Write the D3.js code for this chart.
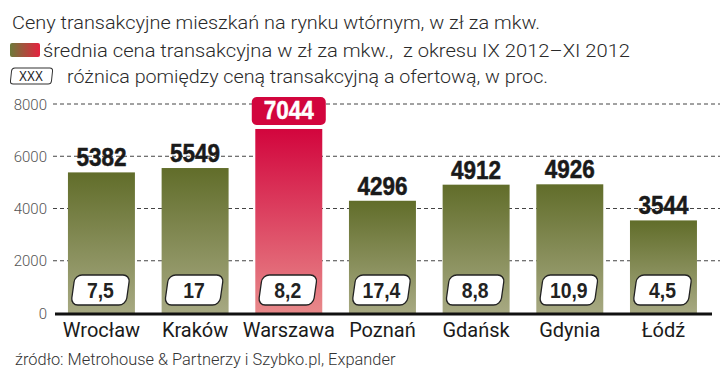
<!DOCTYPE html>
<html><head><meta charset="utf-8">
<script src="https://cdn.jsdelivr.net/npm/d3@7"></script>
<style>
body{margin:0;background:#fff;}
svg{display:block;}
</style></head>
<body>
<script>
const categories = ["Wrocław","Kraków","Warszawa","Poznań","Gdańsk","Gdynia","Łódź"];
const prices = [5382,5549,7044,4296,4912,4926,3544];
const diffs = ["7,5","17","8,2","17,4","8,8","10,9","4,5"];
const highlight = "Warszawa";
const yTicks = [0,2000,4000,6000,8000];
const titleLines = [
  "Ceny transakcyjne mieszkań na rynku wtórnym, w zł za mkw.",
  "średnia cena transakcyjna w zł za mkw.,  z okresu IX 2012–XI 2012",
  "różnica pomiędzy ceną transakcyjną a ofertową, w proc."
];
const legendBoxText = "XXX";
const sourceText = "źródło: Metrohouse & Partnerzy i Szybko.pl, Expander";

const W = 720, H = 379;
const svg = d3.select("body").append("svg").attr("width", W).attr("height", H);
const defs = svg.append("defs");
function grad(id, top, bottom, horiz){
  const g = defs.append("linearGradient").attr("id", id)
    .attr("x1",0).attr("y1",0).attr("x2",horiz?1:0).attr("y2",horiz?0:1);
  g.append("stop").attr("offset","0%").attr("stop-color",top);
  g.append("stop").attr("offset","100%").attr("stop-color",bottom);
}
grad("gGreen","#616d2a","#a7a982");
grad("gRed","#d2053d","#e8898a");
grad("gLegend","#6d7a3a","#e5223f",true);

const y = d3.scaleLinear().domain([0,8000]).range([313,104]);
const x = d3.scaleBand().domain(categories).range([54.6,710.3]).paddingInner(0.285).paddingOuter(0.1425);

const lightFont = "Roboto, 'Liberation Sans', sans-serif";
const boldFont = "'Liberation Sans', Arial, sans-serif";

// title & legend
svg.append("text").attr("x",12).attr("y",29).text(titleLines[0])
  .attr("font-family",lightFont).attr("font-weight",300).attr("font-size",19).attr("fill","#2a2a2a")
  .attr("textLength",528).attr("lengthAdjust","spacingAndGlyphs");
svg.append("rect").attr("x",10).attr("y",43).attr("width",30).attr("height",14).attr("rx",2).attr("fill","url(#gLegend)");
svg.append("text").attr("x",43).attr("y",57).text(titleLines[1]).style("white-space","pre")
  .attr("font-family",lightFont).attr("font-weight",300).attr("font-size",19).attr("fill","#2a2a2a")
  .attr("textLength",587).attr("lengthAdjust","spacingAndGlyphs");
svg.append("rect").attr("x",11).attr("y",68).attr("width",41).attr("height",16).attr("rx",3)
  .attr("transform","skewX(-6) translate(8,0)")
  .attr("fill","#fff").attr("stroke","#333").attr("stroke-width",1);
svg.append("text").attr("transform","translate(31,81) scale(0.85,1)").attr("text-anchor","middle").text(legendBoxText)
  .attr("font-family",boldFont).attr("font-size",14).attr("fill","#222");
svg.append("text").attr("x",67).attr("y",83).text(titleLines[2])
  .attr("font-family",lightFont).attr("font-weight",300).attr("font-size",19).attr("fill","#2a2a2a")
  .attr("textLength",481).attr("lengthAdjust","spacingAndGlyphs");

// grid
svg.append("g").selectAll("line").data(yTicks.filter(d=>d>0)).join("line")
  .attr("x1",53).attr("x2",720).attr("y1",d=>y(d)).attr("y2",d=>y(d))
  .attr("stroke","#444").attr("stroke-width",1).attr("stroke-dasharray","4,3");
svg.append("g").selectAll("text").data(yTicks).join("text")
  .attr("x",47).attr("y",d=>y(d)+5.5).attr("text-anchor","end").text(d=>d)
  .attr("font-family",lightFont).attr("font-weight",300).attr("font-size",15).attr("fill","#555");

// bars
const bars = svg.append("g").selectAll("g").data(categories).join("g");
bars.append("rect")
  .attr("x",d=>x(d)).attr("width",x.bandwidth())
  .attr("y",(d,i)=>y(prices[i])).attr("height",(d,i)=>y(0)-y(prices[i]))
  .attr("fill",d=>d===highlight?"url(#gRed)":"url(#gGreen)");

// value labels
bars.each(function(d,i){
  const g = d3.select(this);
  const cx = x(d)+x.bandwidth()/2;
  const isH = d===highlight;
  if(isH){
    g.append("rect").attr("x",cx-37).attr("y",y(prices[i])-32).attr("width",74).attr("height",28).attr("rx",5)
      .attr("fill","#d2053d");
  }
  g.append("text").attr("transform",`translate(${cx},${y(prices[i])-(isH?10:6)}) scale(0.9,1.03)`)
    .attr("text-anchor","middle").text(prices[i])
    .attr("font-family",boldFont).attr("font-weight",700).attr("font-size",25)
    .attr("fill",isH?"#fff":"#1a1a1a").attr("stroke",isH?"#fff":"#1a1a1a").attr("stroke-width",0.5);
  // diff box
  g.append("rect").attr("x",-27.5).attr("y",-15).attr("width",55).attr("height",30).attr("rx",7)
    .attr("transform",`translate(${cx-1},${y(0)-23}) skewX(-8)`)
    .attr("fill","#fff").attr("stroke","#222").attr("stroke-width",1.3);
  g.append("text").attr("transform",`translate(${cx-1},${y(0)-15}) scale(0.88,1)`)
    .attr("text-anchor","middle").text(diffs[i])
    .attr("font-family",boldFont).attr("font-weight",700).attr("font-size",22)
    .attr("fill","#222");
});

// axis
svg.append("line").attr("x1",55).attr("x2",712).attr("y1",y(0)+1).attr("y2",y(0)+1)
  .attr("stroke","#111").attr("stroke-width",3);
svg.append("g").selectAll("text").data(categories).join("text")
  .attr("x",d=>x(d)+x.bandwidth()/2).attr("y",337).attr("text-anchor","middle").text(d=>d)
  .attr("font-family",lightFont).attr("font-weight",400).attr("font-size",20).attr("fill","#1a1a1a");

svg.append("text").attr("x",15).attr("y",365).text(sourceText)
  .attr("font-family",lightFont).attr("font-weight",300).attr("font-size",16.4).attr("fill","#333");
</script>
</body></html>
